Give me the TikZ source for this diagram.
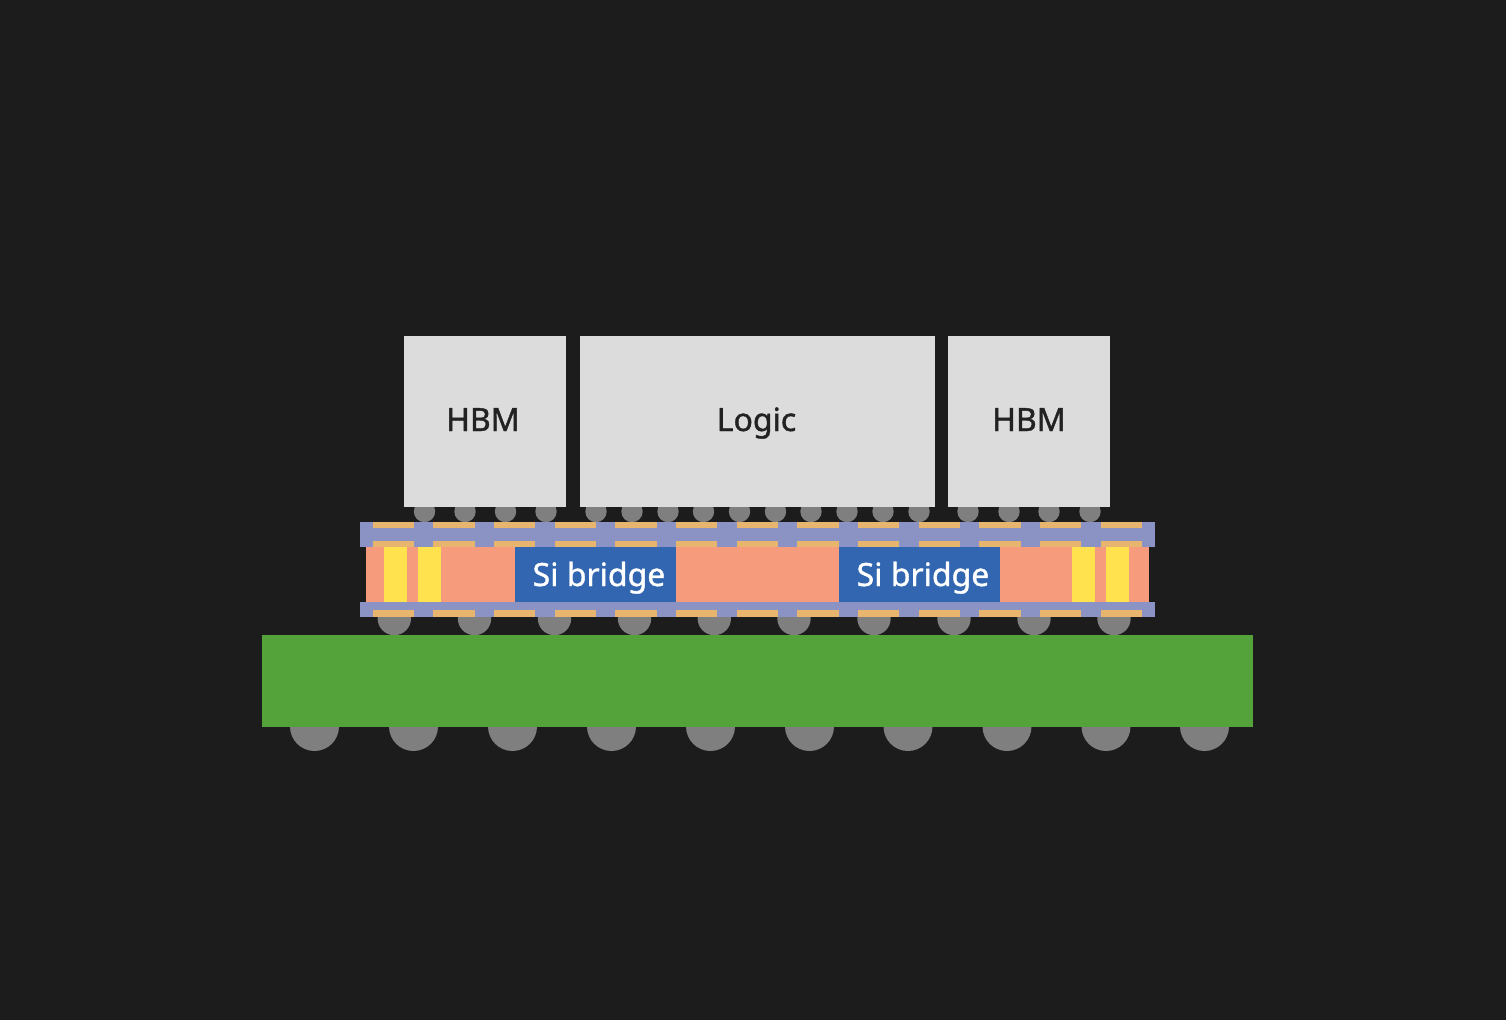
\documentclass[tikz,border=0pt]{standalone}
\usepackage{fontspec}
\setmainfont{Noto Sans}[RawFeature={embolden=1.2}]
\definecolor{bg}{HTML}{1C1C1C}
\definecolor{chipc}{HTML}{DCDCDC}
\definecolor{bump}{HTML}{7F7F7F}
\definecolor{layerc}{HTML}{8A93C4}
\definecolor{padc}{HTML}{E8B56E}
\definecolor{core}{HTML}{F79B7D}
\definecolor{via}{HTML}{FFE24D}
\definecolor{bridge}{HTML}{3266B0}
\definecolor{sub}{HTML}{54A33A}
\definecolor{ink}{HTML}{222222}
\tikzset{
  lab/.style={inner sep=0pt,font=\fontsize{32}{36}\selectfont,anchor=base},
}
\begin{document}
\begin{tikzpicture}[x=1pt,y=-1pt]
\useasboundingbox (0,0) rectangle (1506,1020);
\fill[bg] (0,0) rectangle (1506,1020);
% balls below substrate
\foreach \x in {314.5,413.5,512.5,611.5,710.5,809.5,908,1007,1106,1204.5}
  \fill[bump] (\x,726.5) circle[radius=24.5];
% bumps under the interposer
\foreach \x in {394.3,474.5,554.5,634.5,714.3,794,874,954,1034,1114}
  \fill[bump] (\x,618.5) circle[radius=16.7];
% micro bumps
\foreach \x in {424.5,465,505.5,546,596,632,668,703.5,739.5,775.5,811,847,883,919,968,1009,1049,1090}
  \fill[bump] (\x,511.5) circle[radius=10.7];
% substrate
\fill[sub] (262,635.4) rectangle (1253.3,726.6);
% chips
\fill[chipc] (404.2,336) rectangle (566.4,507);
\fill[chipc] (580.2,336) rectangle (934.8,507);
\fill[chipc] (948,336) rectangle (1110,507);
\node[lab,text=ink] (hbma) at (483,431) {HBM};
\node[lab,text=ink] (logic) at (756.5,431) {Logic};
\node[lab,text=ink] (hbmb) at (1029,431) {HBM};
% core
\fill[core] (365.7,546.7) rectangle (1149.3,601.7);
\foreach \a/\b in {384.3/407.3,418/441.3,1072.3/1095.3,1106/1129.3}
  \fill[via] (\a,546.7) rectangle (\b,601.7);
\fill[bridge] (515,546.7) rectangle (676,601.7);
\fill[bridge] (838.7,546.7) rectangle (1000,601.7);
\node[lab,text=white] (bra) at (599,586) {Si bridge};
\node[lab,text=white] (brb) at (923,586) {Si bridge};
% layers
\fill[layerc] (359.5,522.3) rectangle (1155.3,546.7);
\fill[layerc] (359.5,601.7) rectangle (1155.3,617.3);
\foreach \i in {0,...,12}{
  \pgfmathsetmacro{\xa}{372.7+60.67*\i}
  \pgfmathsetmacro{\xb}{\xa+41.4}
  \fill[padc] (\xa,522.3) rectangle (\xb,528.3);
  \fill[padc] (\xa,541) rectangle (\xb,546.7);
  \fill[padc] (\xa,609.7) rectangle (\xb,617.3);
}
\end{tikzpicture}
\end{document}
